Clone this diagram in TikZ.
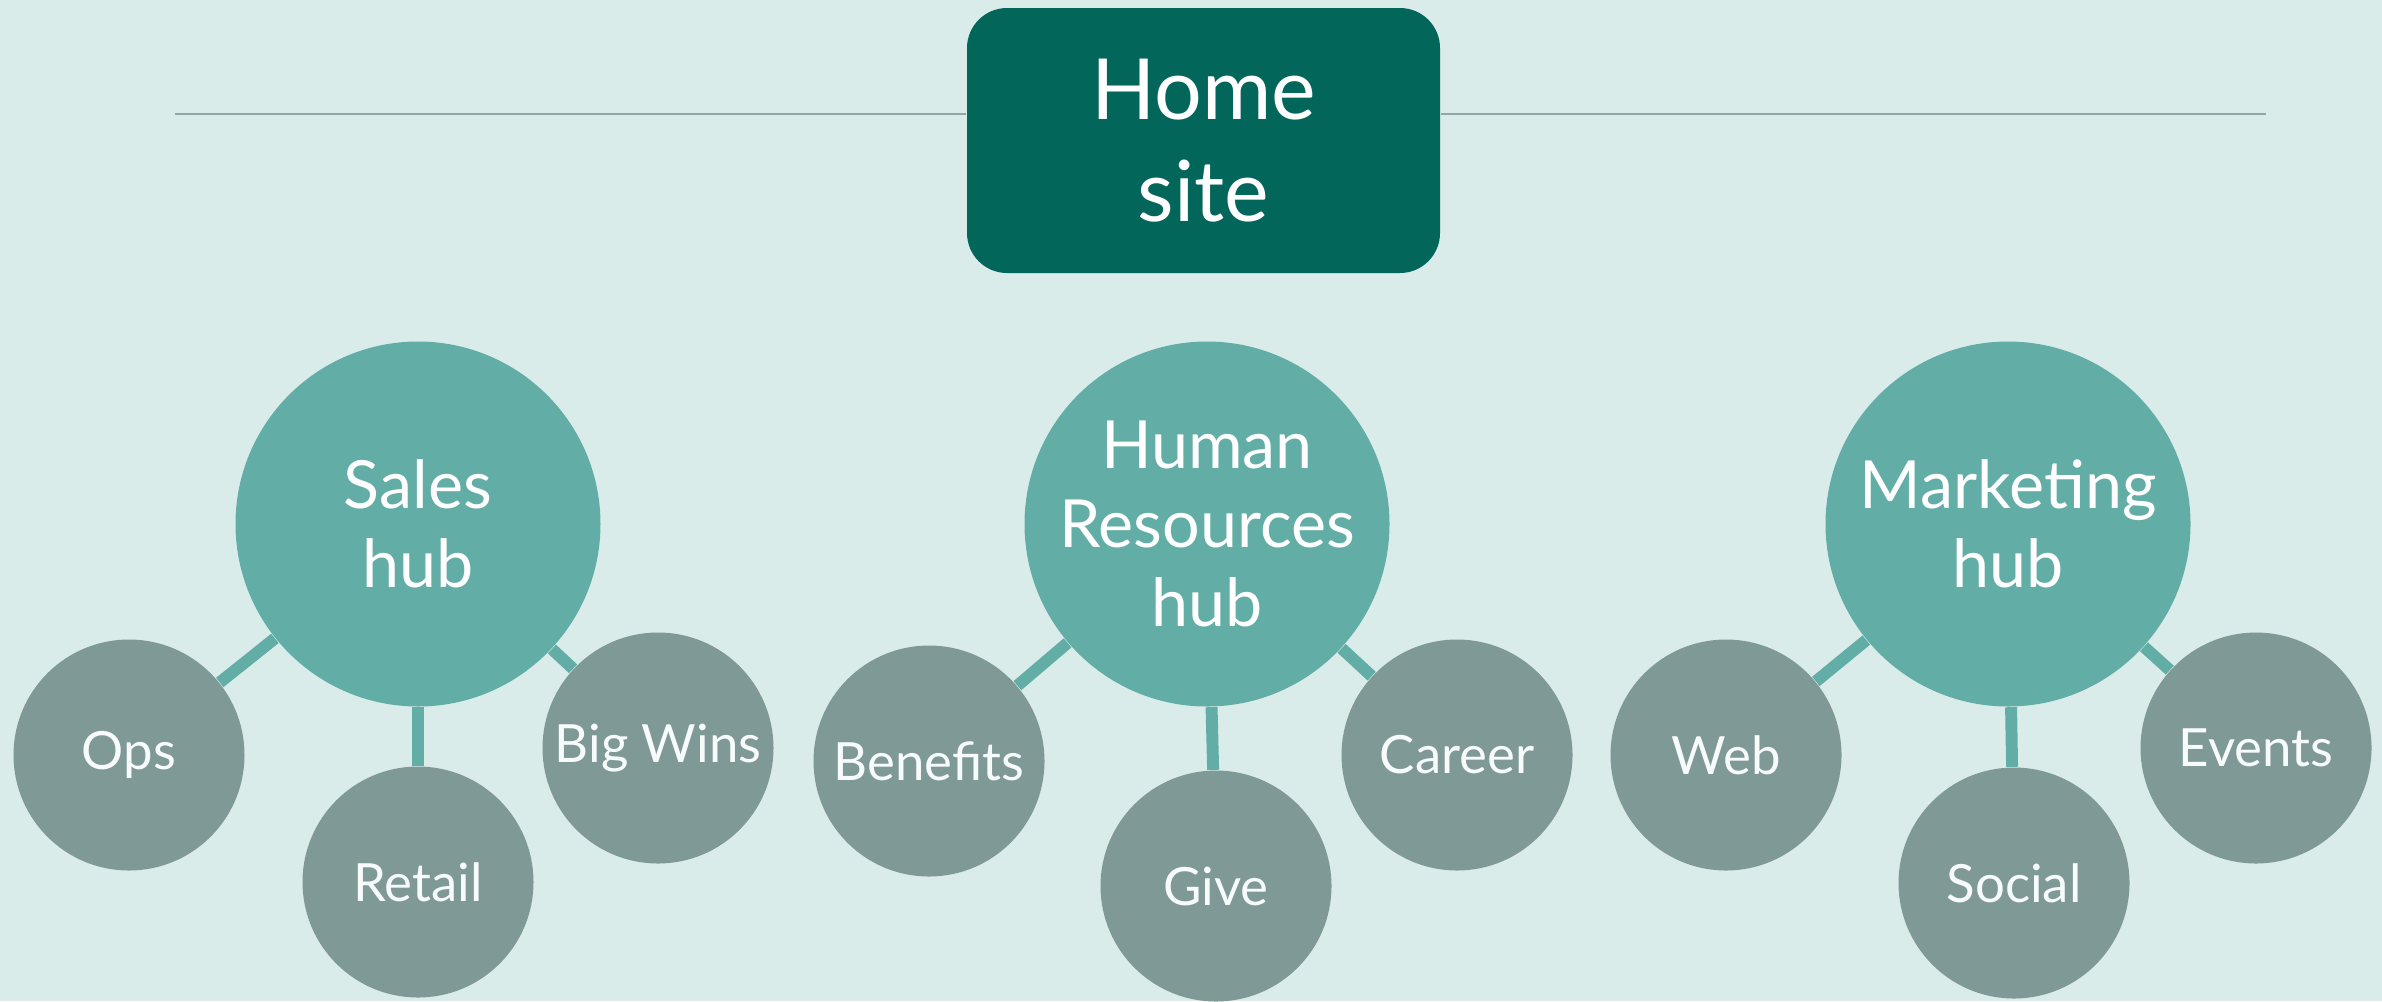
\documentclass[tikz,border=0pt]{standalone}
\usepackage{fontspec}
\setmainfont{Lato}
\definecolor{bgpale}{HTML}{DAECEA}
\definecolor{homegreen}{HTML}{02675A}
\definecolor{hubteal}{HTML}{62AEA6}
\definecolor{leafgray}{HTML}{7F9997}
\definecolor{rulegray}{HTML}{8EA8A5}

\begin{document}
\begin{tikzpicture}[
  home/.style={rectangle, rounded corners=0.4cm, fill=homegreen, text=white,
    minimum width=4.73cm, minimum height=2.65cm, align=center,
    font=\fontsize{24pt}{29pt}\selectfont},
  hub/.style={circle, fill=hubteal, text=white, minimum size=3.65cm,
    inner sep=0pt, align=center, font=\fontsize{18.9pt}{22.5pt}\selectfont},
  leaf/.style={circle, fill=leafgray, text=white!95!hubteal, minimum size=2.31cm,
    inner sep=0pt, align=center, font=\fontsize{15pt}{18pt}\selectfont},
  link/.style={draw=hubteal, line width=3.4pt}
]
  % background and page size
  \fill[bgpale] (0,0) rectangle (23.82,-10.01);
  \useasboundingbox (0,0) rectangle (23.82,-10.01);

  % home site with its rule
  \node[home] (home) at (12.035,-1.405) {Home\\site};
  \coordinate (ruleL) at (1.75,-1.14);
  \coordinate (ruleR) at (22.66,-1.14);
  \draw[rulegray, line width=0.6pt] (ruleL) -- (home.west |- ruleL);
  \draw[rulegray, line width=0.6pt] (home.east |- ruleR) -- (ruleR);

  % hubs
  \node[hub] (sales) at (4.18,-5.24) {Sales\\hub};
  \node[hub] (hr) at (12.07,-5.24) {Human\\Resources\\hub};
  \node[hub] (marketing) at (20.08,-5.24) {Marketing\\hub};

  % sites of the sales hub
  \node[leaf] (ops) at (1.29,-7.55) {Ops};
  \node[leaf] (retail) at (4.18,-8.82) {Retail};
  \node[leaf] (bigwins) at (6.58,-7.48) {Big Wins};

  % sites of the HR hub
  \node[leaf] (benefits) at (9.29,-7.61) {Benefits};
  \node[leaf] (give) at (12.16,-8.86) {Give};
  \node[leaf] (career) at (14.57,-7.55) {Career};

  % sites of the marketing hub
  \node[leaf] (web) at (17.26,-7.55) {Web};
  \node[leaf] (social) at (20.14,-8.83) {Social};
  \node[leaf] (events) at (22.56,-7.48) {Events};

  % links
  \draw[link] (sales) -- (ops);
  \draw[link] (sales) -- (retail);
  \draw[link] (sales) -- (bigwins);
  \draw[link] (hr) -- (benefits);
  \draw[link] (hr) -- (give);
  \draw[link] (hr) -- (career);
  \draw[link] (marketing) -- (web);
  \draw[link] (marketing) -- (social);
  \draw[link] (marketing) -- (events);
\end{tikzpicture}
\end{document}
